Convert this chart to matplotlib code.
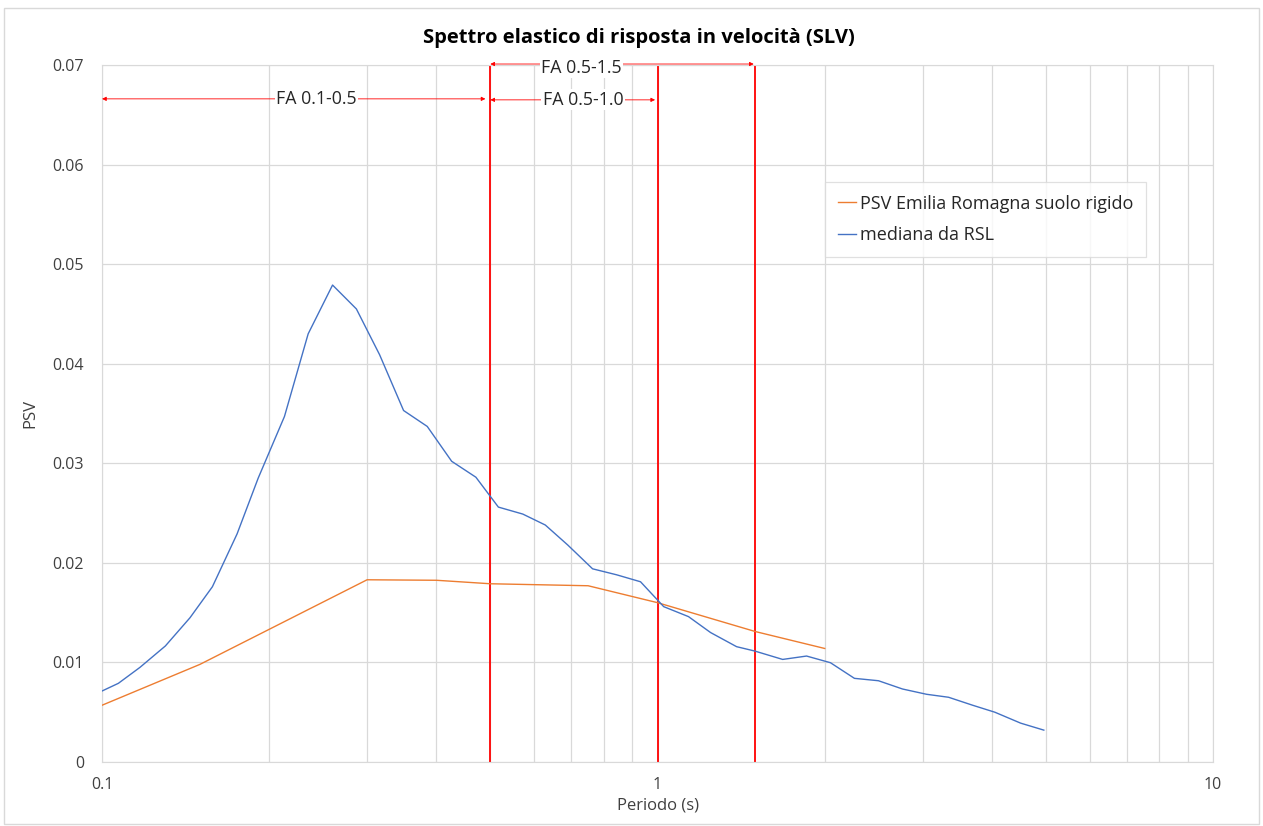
import matplotlib.pyplot as plt
from matplotlib.patches import Rectangle
from matplotlib.ticker import FixedLocator, LogLocator, NullFormatter

# Spectral velocity (PSV) vs period, log x-axis
plt.rcParams['font.family'] = ['Open Sans', 'DejaVu Sans']

# Reference spectrum, Emilia Romagna stiff soil
periodo_er = [0.1, 0.15, 0.3, 0.4, 0.5, 0.75, 1.0, 1.5, 2.0]
psv_er = [0.0057, 0.0098, 0.0183, 0.01825, 0.0179, 0.0177, 0.0160, 0.0131, 0.0114]

# Median of the site response analyses
periodo_rsl = [0.10, 0.107, 0.117, 0.130, 0.144, 0.158, 0.175, 0.191, 0.213, 0.235,
               0.260, 0.287, 0.316, 0.349, 0.385, 0.426, 0.471, 0.517, 0.572, 0.628,
               0.689, 0.764, 0.844, 0.932, 1.026, 1.137, 1.246, 1.388, 1.497, 1.680,
               1.855, 2.048, 2.262, 2.499, 2.761, 3.050, 3.342, 3.692, 4.048, 4.506, 4.96]
psv_rsl = [0.00713, 0.0079, 0.0095, 0.01165, 0.01449, 0.0176, 0.0229, 0.0285, 0.0347, 0.0430,
           0.0479, 0.0455, 0.0409, 0.0353, 0.0337, 0.0302, 0.0286, 0.0256, 0.0249, 0.0238,
           0.0218, 0.0194, 0.0188, 0.0181, 0.0156, 0.0146, 0.0130, 0.01158, 0.01114, 0.0103,
           0.01064, 0.00997, 0.0084, 0.00816, 0.00733, 0.0068, 0.0065, 0.0057, 0.0050, 0.0039, 0.0032]

# Period limits used for the amplification factors
limiti_fa = [0.1, 0.5, 1.0, 1.5]
# (start, end, arrow height, label x, label y, label) of each FA interval
intervalli_fa = [(0.1, 0.49, 0.0666, 0.243, 0.0666, 'FA 0.1-0.5'),
                 (0.5, 0.99, 0.0665, 0.734, 0.0665, 'FA 0.5-1.0'),
                 (0.5, 1.49, 0.0701, 0.730, 0.0697, 'FA 0.5-1.5')]
etichette_y = ['0', '0.01', '0.02', '0.03', '0.04', '0.05', '0.06', '0.07']

fig = plt.figure(figsize=(12.63, 8.26), dpi=100)
fig.patches.append(Rectangle((0.003, 0.003), 0.994, 0.987, transform=fig.transFigure,
                             fill=False, edgecolor='#d9d9d9', linewidth=1))
ax = fig.add_axes([0.0808, 0.0775, 0.8796, 0.8438])

ax.set_xscale('log')
ax.set_xlim(0.1, 10)
ax.set_ylim(0, 0.07)

ax.xaxis.set_major_locator(FixedLocator([0.1, 1, 10]))
ax.set_xticklabels(['0.1', '1', '10'])
ax.xaxis.set_minor_locator(LogLocator(base=10, subs=range(2, 10)))
ax.xaxis.set_minor_formatter(NullFormatter())
ax.set_yticks([i * 0.01 for i in range(8)])
ax.set_yticklabels(etichette_y)
ax.tick_params(which='both', length=0, labelsize=11.5, colors='#404040')
ax.tick_params(axis='y', pad=13)
ax.tick_params(axis='x', pad=11)

ax.grid(True, which='both', color='#d9d9d9', linewidth=0.9)
ax.set_axisbelow(True)
for s in ax.spines.values():
    s.set_color('#d9d9d9')

for t in limiti_fa:
    ax.axvline(t, color='red', linewidth=1.3, zorder=2)

ax.plot(periodo_er, psv_er, color='#ED7D31', linewidth=1.0, zorder=3,
        label='PSV Emilia Romagna suolo rigido')
ax.plot(periodo_rsl, psv_rsl, color='#4472C4', linewidth=1.0, zorder=3,
        label='mediana da RSL')

for t0, t1, h, xt, yt, lab in intervalli_fa:
    ax.annotate('', xy=(t1, h), xytext=(t0, h), annotation_clip=False,
                arrowprops=dict(arrowstyle='<|-|>', color='red', lw=0.6,
                                mutation_scale=6, shrinkA=0, shrinkB=0), zorder=4)
    ax.text(xt, yt, lab, ha='center', va='center', fontsize=12.8, color='#262626',
            bbox=dict(facecolor='white', edgecolor='none', pad=1), zorder=5, clip_on=False)

leg = ax.legend(loc='upper left', bbox_to_anchor=(0.651, 0.832), fontsize=13,
                frameon=True, fancybox=False, edgecolor='#d9d9d9', handlelength=1.0,
                handletextpad=0.2, labelspacing=0.75, borderpad=0.7, borderaxespad=0)
leg.get_frame().set_linewidth(0.9)
for t in leg.get_texts():
    t.set_color('#262626')

fig.text(0.506, 0.954, 'Spettro elastico di risposta in velocità (SLV)', fontsize=14.5,
         fontweight='bold', ha='center', va='center', color='#000000')
ax.set_xlabel('Periodo (s)', fontsize=12, color='#404040', labelpad=3)
ax.set_ylabel('PSV', fontsize=12, color='#404040', labelpad=10)

plt.savefig('out.png', dpi=100)
